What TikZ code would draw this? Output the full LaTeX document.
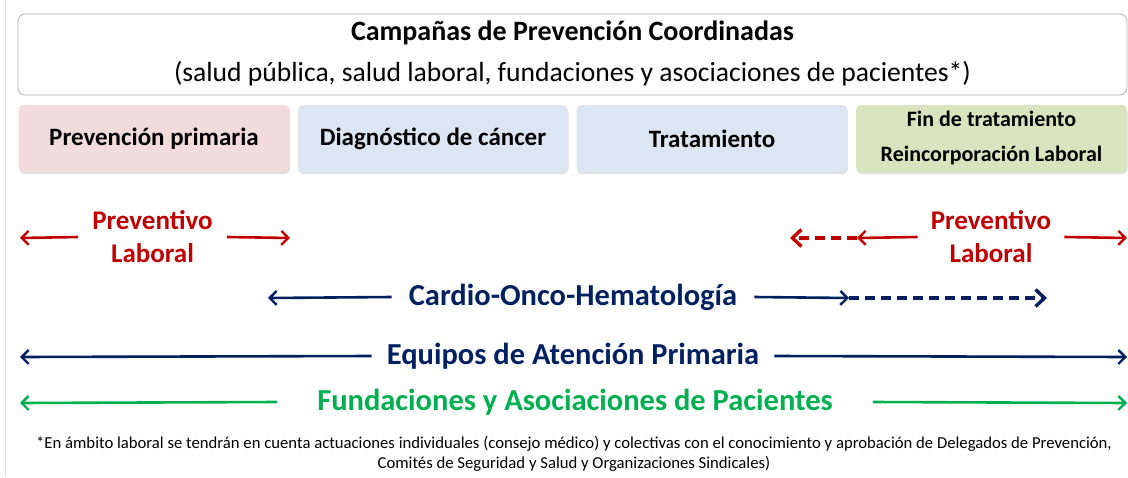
\documentclass[tikz,border=0pt]{standalone}
\usepackage{fontspec}
\setmainfont{Carlito}
\usetikzlibrary{arrows.meta,shadows}
\definecolor{rojo}{HTML}{C00000}
\definecolor{azul}{HTML}{002060}
\definecolor{verde}{HTML}{00B050}
\definecolor{rosa}{HTML}{F2DCDB}
\definecolor{celeste}{HTML}{DCE6F2}
\definecolor{oliva}{HTML}{D7E4BD}
\tikzset{
  fase/.style={rounded corners=5pt,minimum height=67pt,minimum width=271pt,inner sep=0pt,
    font=\bfseries\fontsize{25}{30}\selectfont,align=center,
    drop shadow={shadow xshift=0.5pt,shadow yshift=-2pt,opacity=0.25}},
  flecha/.style={line width=2.6pt,-{Straight Barb[length=7pt,width=14pt,line width=2.4pt]}},
  flechadash/.style={line width=3.6pt,dash pattern=on 10pt off 6pt,-{Straight Barb[length=9pt,width=17pt,line width=3.4pt]}},
  rotulo/.style={font=\bfseries\fontsize{30.5}{36}\selectfont,inner ysep=0pt}
}
\begin{document}
\begin{tikzpicture}[x=1pt,y=-1pt]
\useasboundingbox (0,0) rectangle (1128,477);
\draw[black!12,line width=1pt] (5,0) -- (5,477);

\node[draw=black!30,line width=0.8pt,rounded corners=7pt,minimum width=1109pt,minimum height=81pt,inner sep=0pt] (camp) at (572.5,54.5) {};
\node[font=\bfseries\fontsize{28}{32}\selectfont] (tit) at (572.5,33) {Campañas de Prevención Coordinadas};
\node[font=\fontsize{27.6}{32}\selectfont] (sub) at (572.5,74) {(salud pública, salud laboral, fundaciones y asociaciones de pacientes*)};

\node[fase,fill=rosa] (prim) at (154,138.5) {Prevención primaria};
\node[fase,fill=celeste,minimum width=270pt] (diag) at (433,138.5) {Diagnóstico de cáncer};
\node[fase,fill=celeste] (trat) at (712,138.5) {Tratamiento};
\node[fase,fill=oliva,font=\bfseries\fontsize{22}{35}\selectfont,text depth=4pt] (fin) at (991.5,138.5) {Fin de tratamiento\\Reincorporación Laboral};

\node[rotulo,rojo,align=center,inner xsep=14pt,font=\bfseries\fontsize{27}{33}\selectfont] (prev1) at (152.5,237) {Preventivo\\Laboral};
\coordinate (p1a) at (20,238);
\coordinate (p1b) at (290,238);
\draw[flecha,rojo] (prev1.west) -- (p1a);
\draw[flecha,rojo] (prev1.east) -- (p1b);

\node[rotulo,rojo,align=center,inner xsep=13pt,font=\bfseries\fontsize{27}{33}\selectfont] (prev2) at (991,237) {Preventivo\\Laboral};
\coordinate (p2m) at (857,238);
\coordinate (p2a) at (790,238);
\coordinate (p2b) at (1127,238);
\draw[flecha,rojo] (prev2.west) -- (p2m);
\draw[flechadash,rojo] (p2m) -- (p2a);
\draw[flecha,rojo] (prev2.east) -- (p2b);

\node[rotulo,azul,inner xsep=17pt] (cardio) at (573,297) {Cardio-Onco-Hematología};
\coordinate (ca) at (268,298);
\coordinate (cm) at (849,298);
\coordinate (cb) at (1047,298);
\draw[flecha,azul] (cardio.west) -- (ca);
\draw[flecha,azul] (cardio.east) -- (cm);
\draw[flechadash,azul] (cm) -- (cb);

\node[rotulo,azul,inner xsep=15pt] (equipos) at (573,356) {Equipos de Atención Primaria};
\coordinate (ea) at (20,357);
\coordinate (eb) at (1127,357);
\draw[flecha,azul] (equipos.west) -- (ea);
\draw[flecha,azul] (equipos.east) -- (eb);

\node[rotulo,verde,inner xsep=40pt] (fund) at (575,402) {Fundaciones y Asociaciones de Pacientes};
\coordinate (fa) at (20,403);
\coordinate (fb) at (1127,403);
\draw[flecha,verde] (fund.west) -- (fa);
\draw[flecha,verde] (fund.east) -- (fb);

\node[align=center,font=\fontsize{16.7}{20}\selectfont] (nota) at (574,454) {*En ámbito laboral se tendrán en cuenta actuaciones individuales (consejo médico) y colectivas con el conocimiento y aprobación de Delegados de Prevención,\\Comités de Seguridad y Salud y Organizaciones Sindicales)};
\end{tikzpicture}
\end{document}
